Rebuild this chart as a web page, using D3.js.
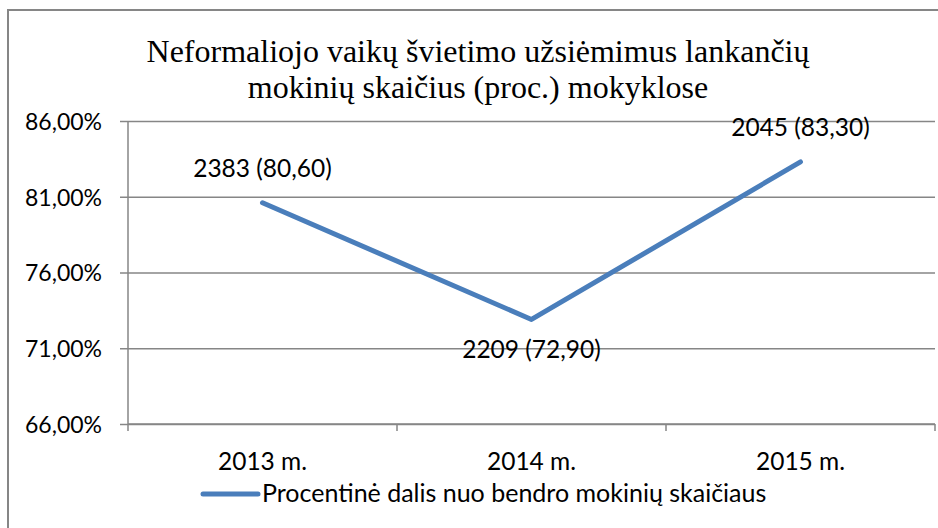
<!DOCTYPE html>
<html>
<head>
<meta charset="utf-8">
<script src="https://cdn.jsdelivr.net/npm/d3@7"></script>
<style>
  body { margin: 0; background: #fff; }
  .lbl { font-family: Lato, "Open Sans", sans-serif; font-size: 23px; fill: #000; }
  .big { font-size: 24.5px; }
  .leg { font-size: 25px; }
  .title { font-family: "Liberation Serif", "Times New Roman", serif; font-size: 32px; fill: #000; }
</style>
</head>
<body>
<svg width="938" height="528"></svg>
<script>
var years = ["2013 m.", "2014 m.", "2015 m."];
var percents = [80.6, 72.9, 83.3];
var counts = [2383, 2209, 2045];
var yTicks = [66, 71, 76, 81, 86];
var titleLines = ["Neformaliojo vaikų švietimo užsiėmimus lankančių", "mokinių skaičius (proc.) mokyklose"];
var seriesName = "Procentinė dalis nuo bendro mokinių skaičiaus";

var svg = d3.select("svg");
var margin = { top: 121, right: 3, bottom: 104, left: 128 };
var width = 938 - margin.left - margin.right,
    height = 528 - margin.top - margin.bottom;

// outer chart border
svg.append("rect")
    .attr("x", 8).attr("y", 10)
    .attr("width", 940).attr("height", 540)
    .attr("fill", "none")
    .attr("stroke", "#868686")
    .attr("stroke-width", 2);

svg.append("text")
    .attr("class", "title")
    .attr("text-anchor", "middle")
    .selectAll("tspan")
    .data(titleLines)
    .enter().append("tspan")
    .attr("x", 478)
    .attr("y", function (d, i) { return 62 + i * 36; })
    .text(function (d) { return d; });

var g = svg.append("g").attr("transform", "translate(" + margin.left + "," + margin.top + ")");

var x = d3.scaleBand().domain(years).range([0, width]);
var y = d3.scaleLinear().domain([66, 86]).range([height, 0]);

// horizontal gridlines
g.append("g")
    .call(d3.axisLeft(y).tickValues(yTicks).tickSize(-width).tickFormat(""))
    .call(function (a) {
        a.select(".domain").remove();
        a.selectAll("line").attr("stroke", "#868686").attr("stroke-width", 1.5);
    });

// y axis
var yAxis = g.append("g")
    .call(d3.axisLeft(y).tickValues(yTicks).tickSize(8).tickPadding(18)
        .tickFormat(function (d) { return d3.format(".2f")(d).replace(".", ",") + "%"; }));
yAxis.select(".domain").attr("stroke", "#868686").attr("stroke-width", 1.5).attr("d", "M0,0V" + height);
yAxis.selectAll("line").attr("stroke", "#868686").attr("stroke-width", 1.5);
yAxis.selectAll("text").attr("class", "lbl").attr("font-family", null).attr("font-size", null).attr("dy", "0.36em");

// x axis
var xTicks = years.map(function (d) { return x(d); }).concat([width]);
var xAxis = g.append("g").attr("transform", "translate(0," + height + ")");
xAxis.append("path")
    .attr("d", "M0,0H" + width)
    .attr("stroke", "#868686").attr("stroke-width", 1.5);
xAxis.selectAll("line.tk")
    .data(xTicks)
    .enter().append("line")
    .attr("class", "tk")
    .attr("x1", function (d) { return d; }).attr("x2", function (d) { return d; })
    .attr("y1", 0).attr("y2", 7)
    .attr("stroke", "#868686").attr("stroke-width", 1.5);
xAxis.selectAll("text")
    .data(years)
    .enter().append("text")
    .attr("class", "lbl big")
    .attr("text-anchor", "middle")
    .attr("x", function (d) { return x(d) + x.bandwidth() / 2; })
    .attr("y", 46)
    .text(function (d) { return d; });

// series line
var line = d3.line()
    .x(function (d, i) { return x(years[i]) + x.bandwidth() / 2; })
    .y(function (d) { return y(d); });

g.append("path")
    .datum(percents)
    .attr("d", line)
    .attr("fill", "none")
    .attr("stroke", "#4A7EBB")
    .attr("stroke-width", 5)
    .attr("stroke-linecap", "round")
    .attr("stroke-linejoin", "round");

// data labels
g.selectAll(".dl")
    .data(percents)
    .enter().append("text")
    .attr("class", "lbl big")
    .attr("text-anchor", "middle")
    .attr("x", function (d, i) { return x(years[i]) + x.bandwidth() / 2; })
    .attr("y", function (d, i) { return y(d) + (i === 1 ? 39 : -26); })
    .text(function (d, i) { return counts[i] + " (" + d3.format(".2f")(d).replace(".", ",") + ")"; });

// legend
var leg = svg.append("g").attr("transform", "translate(203,494)");
leg.append("line")
    .attr("x1", 0).attr("x2", 55)
    .attr("stroke", "#4A7EBB").attr("stroke-width", 5)
    .attr("stroke-linecap", "round");
leg.append("text")
    .attr("class", "lbl leg")
    .attr("x", 59).attr("y", 8)
    .text(seriesName);
</script>
</body>
</html>
